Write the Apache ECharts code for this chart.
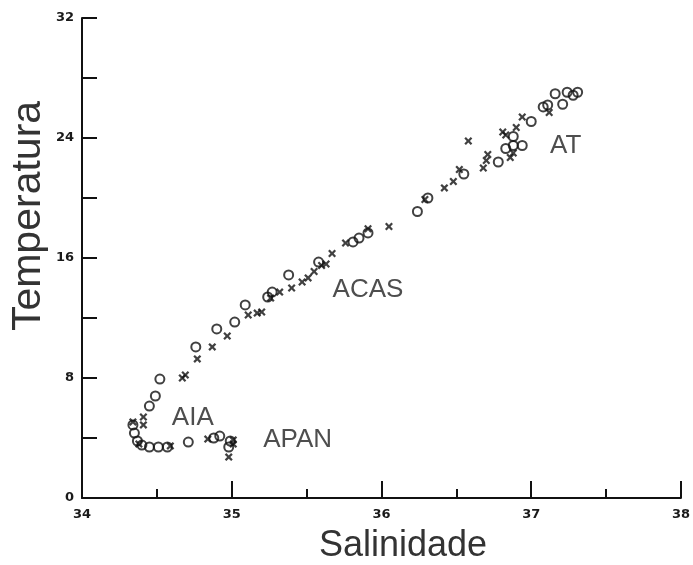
<!DOCTYPE html>
<html>
<head>
<meta charset="utf-8">
<script src="https://cdn.jsdelivr.net/npm/echarts@6/dist/echarts.min.js"></script>
<style>
  html, body { margin: 0; background: #fff; }
  #chart { width: 693px; height: 565px; }
</style>
</head>
<body>
<div id="chart"></div>
<script>
const circulos = [
  [34.34, 4.87], [34.35, 4.33], [34.37, 3.8], [34.40, 3.53], [34.45, 3.4],
  [34.51, 3.4], [34.57, 3.4], [34.71, 3.73], [34.88, 4.0], [34.92, 4.13],
  [34.98, 3.4], [34.99, 3.8], [34.45, 6.13], [34.49, 6.8], [34.52, 7.93],
  [34.76, 10.07], [34.90, 11.27], [35.02, 11.73], [35.09, 12.87], [35.24, 13.4],
  [35.27, 13.73], [35.38, 14.87], [35.58, 15.73], [35.81, 17.07], [35.85, 17.33],
  [35.91, 17.67], [36.24, 19.1], [36.31, 20.0], [36.55, 21.6], [36.78, 22.4],
  [36.83, 23.3], [36.88, 23.5], [36.94, 23.5], [36.88, 24.1], [37.00, 25.1],
  [37.08, 26.07], [37.11, 26.2], [37.21, 26.25], [37.16, 26.95], [37.24, 27.05],
  [37.28, 26.85], [37.31, 27.05]
]
const cruzes = [
  [34.34, 5.07], [34.41, 5.4], [34.41, 4.87], [34.38, 3.6], [34.59, 3.47],
  [34.84, 3.93], [35.01, 3.87], [35.01, 3.6], [34.98, 2.73], [34.67, 8.0],
  [34.69, 8.2], [34.77, 9.27], [34.87, 10.07], [34.97, 10.8], [35.11, 12.2],
  [35.17, 12.33], [35.20, 12.4], [35.26, 13.33], [35.32, 13.73], [35.40, 14.0],
  [35.47, 14.4], [35.51, 14.67], [35.55, 15.1], [35.60, 15.5], [35.63, 15.6],
  [35.67, 16.3], [35.76, 17.0], [35.91, 17.95], [36.05, 18.1], [36.29, 19.9],
  [36.42, 20.67], [36.48, 21.1], [36.52, 21.9], [36.58, 23.8], [36.68, 22.0],
  [36.70, 22.5], [36.71, 22.9], [36.81, 24.4], [36.83, 24.2], [36.86, 22.7],
  [36.88, 23.0], [36.90, 24.7], [36.94, 25.4], [37.12, 25.7]
]
// massas de água
const massasNomes = ['AT', 'ACAS', 'AIA', 'APAN']
const massasPos = [[37.23, 23.5], [35.91, 13.87], [34.74, 5.33], [35.44, 3.87]]

const xRotulos = [34, 35, 36, 37, 38]
const yRotulos = [0, 8, 16, 24, 32]

const chart = echarts.init(document.getElementById('chart'))

const cruz = 'path://M0,2L2,0L5,3L8,0L10,2L7,5L10,8L8,10L5,7L2,10L0,8L3,5Z'
const fonteTicks = { fontFamily: 'DejaVu Sans', fontWeight: 'bold', fontSize: 13, color: '#1a1a1a' }

chart.setOption({
  animation: false,
  backgroundColor: '#fff',
  grid: { left: 82, top: 18, right: 12, bottom: 67, containLabel: false },
  xAxis: {
    type: 'value', min: 34, max: 38, interval: 1,
    axisLine: { lineStyle: { color: '#111', width: 2 } },
    axisTick: { inside: true, length: 17, lineStyle: { color: '#111', width: 2 } },
    minorTick: { show: true, splitNumber: 2, length: 9, lineStyle: { color: '#111', width: 2 } },
    splitLine: { show: false },
    axisLabel: Object.assign({ margin: 10, formatter: v => xRotulos.includes(v) ? String(v) : '' }, fonteTicks)
  },
  yAxis: {
    type: 'value', min: 0, max: 32, interval: 4,
    axisLine: { show: true, lineStyle: { color: '#111', width: 2 } },
    axisTick: { show: true, inside: true, length: 15, lineStyle: { color: '#111', width: 2 } },
    splitLine: { show: false },
    axisLabel: Object.assign({ margin: 8, formatter: v => yRotulos.includes(v) ? String(v) : '' }, fonteTicks)
  },
  graphic: [
    {
      type: 'text', x: 29, y: 216, rotation: Math.PI / 2,
      style: { text: 'Temperatura', font: '41px "Liberation Sans", Arial', fill: '#333', align: 'center', verticalAlign: 'middle' }
    },
    {
      type: 'text', x: 403, y: 546,
      style: { text: 'Salinidade', font: '36px "Liberation Sans", Arial', fill: '#333', align: 'center', verticalAlign: 'middle' }
    }
  ],
  series: [
    {
      type: 'scatter', data: cruzes, symbol: cruz, symbolSize: 8,
      itemStyle: { color: '#111' }
    },
    {
      type: 'scatter', data: circulos, symbol: 'circle', symbolSize: 9,
      itemStyle: { color: 'rgba(0,0,0,0)', borderColor: '#111', borderWidth: 2 }
    },
    {
      type: 'scatter', symbolSize: 0, silent: true,
      data: massasNomes.map((n, i) => ({ name: n, value: massasPos[i] })),
      label: {
        show: true, position: 'inside', formatter: p => p.name,
        fontFamily: '"Liberation Sans", Arial', fontSize: 26, color: '#222'
      }
    }
  ]
})
</script>
</body>
</html>
